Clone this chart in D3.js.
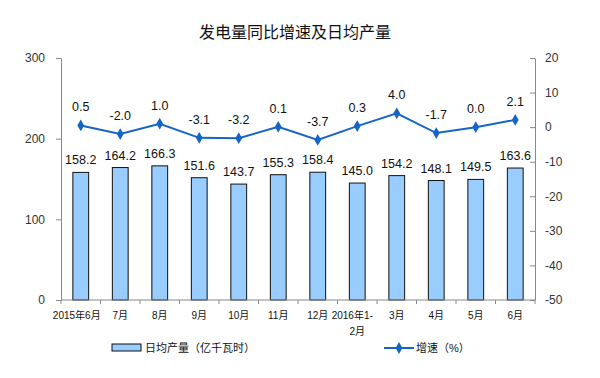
<!DOCTYPE html>
<html lang="zh">
<head>
<meta charset="utf-8">
<title>发电量同比增速及日均产量</title>
<script src="https://d3js.org/d3.v7.min.js"></script>
<style>
  body { margin: 0; background: #fff; }
  text { font-family: "Liberation Sans", Arial, "Noto Sans CJK SC", sans-serif; }
  .cjk { font-family: "Liberation Sans", "Noto Sans CJK SC", sans-serif; }
</style>
</head>
<body>
<script>
// months on the x axis (second line used for the 1-2 month label)
var months = ["2015年6月", "7月", "8月", "9月", "10月", "11月", "12月", "2016年1-", "3月", "4月", "5月", "6月"];
var monthsLine2 = ["", "", "", "", "", "", "", "2月", "", "", "", ""];
// daily output, 亿千瓦时
var output = [158.2, 164.2, 166.3, 151.6, 143.7, 155.3, 158.4, 145.0, 154.2, 148.1, 149.5, 163.6];
// year-on-year growth, %
var growth = [0.5, -2.0, 1.0, -3.1, -3.2, 0.1, -3.7, 0.3, 4.0, -1.7, 0.0, 2.1];
var leftTicks = [0, 100, 200, 300];
var rightTicks = [-50, -40, -30, -20, -10, 0, 10, 20];

var w = 600, h = 378;
var mLeft = 61, mRight = 535, mTop = 58, mBottom = 300;

var svg = d3.select("body").append("svg")
    .attr("width", w)
    .attr("height", h);

var x = d3.scaleBand()
    .domain(d3.range(months.length))
    .range([mLeft, mRight])
    .paddingInner(0.6)
    .paddingOuter(0.3);

var xb = d3.scaleBand()
    .domain(d3.range(months.length))
    .range([mLeft, mRight]);

var y = d3.scaleLinear().domain([0, 300]).range([mBottom, mTop]);
var y2 = d3.scaleLinear().domain([-50, 20]).range([mBottom, mTop]);

// title
svg.append("text")
    .attr("class", "cjk")
    .attr("x", 295)
    .attr("y", 38)
    .attr("text-anchor", "middle")
    .style("font-size", "16px")
    .style("fill", "#111")
    .text("发电量同比增速及日均产量");

// bars
svg.selectAll("rect.bar")
    .data(output)
    .enter()
    .append("rect")
    .attr("class", "bar")
    .attr("x", function(d, i) { return x(i); })
    .attr("width", x.bandwidth())
    .attr("y", function(d) { return y(d); })
    .attr("height", function(d) { return y(0) - y(d); })
    .style("fill", "#99ccff")
    .style("stroke", "#111")
    .style("stroke-width", 1);

svg.selectAll("text.barlabel")
    .data(output)
    .enter()
    .append("text")
    .attr("class", "barlabel")
    .attr("x", function(d, i) { return x(i) + x.bandwidth() / 2; })
    .attr("y", function(d) { return y(d) - 8; })
    .attr("text-anchor", "middle")
    .style("font-size", "12.5px")
    .style("fill", "#111")
    .text(function(d) { return d.toFixed(1); });

// left axis
var axisL = svg.append("g")
    .attr("transform", "translate(" + mLeft + ",0)")
    .call(d3.axisLeft(y).tickValues(leftTicks).tickSize(5).tickSizeOuter(0)
        .tickFormat(function(d) { return String(d); }));
axisL.select(".domain").attr("stroke", "#888");
axisL.selectAll(".tick line").attr("stroke", "#888");
axisL.selectAll(".tick text")
    .attr("x", -16)
    .style("font-size", "12px")
    .style("fill", "#333")
    .style("font-family", "Liberation Sans, Arial, sans-serif");

// right axis (ticks point inward), plain hyphen for negatives
var axisR = svg.append("g")
    .attr("transform", "translate(" + mRight + ",0)")
    .call(d3.axisRight(y2).tickValues(rightTicks).tickSize(-5).tickSizeOuter(0)
        .tickFormat(function(d) { return String(d); }));
axisR.select(".domain").attr("stroke", "#888");
axisR.selectAll(".tick line").attr("stroke", "#888");
axisR.selectAll(".tick text")
    .attr("x", 10)
    .style("font-size", "12px")
    .style("fill", "#333")
    .style("font-family", "Liberation Sans, Arial, sans-serif");

// x axis with ticks at the band edges
var axisB = svg.append("g").attr("transform", "translate(0," + mBottom + ")");
axisB.append("line")
    .attr("x1", mLeft).attr("x2", mRight)
    .attr("stroke", "#888");
axisB.selectAll("line.tk")
    .data(d3.range(months.length + 1))
    .enter()
    .append("line")
    .attr("class", "tk")
    .attr("x1", function(d) { return mLeft + d * xb.step(); })
    .attr("x2", function(d) { return mLeft + d * xb.step(); })
    .attr("y1", 0).attr("y2", 4)
    .attr("stroke", "#888");
axisB.selectAll("text.m1")
    .data(months)
    .enter()
    .append("text")
    .attr("class", "m1 cjk")
    .attr("x", function(d, i) { return xb(i) + xb.bandwidth() / 2 - (i == 0 ? 4 : i == 7 ? 5 : 0); })
    .attr("y", 19)
    .attr("text-anchor", "middle")
    .style("font-size", "10px")
    .style("fill", "#111")
    .text(function(d) { return d; });
axisB.selectAll("text.m2")
    .data(monthsLine2)
    .enter()
    .append("text")
    .attr("class", "m2 cjk")
    .attr("x", function(d, i) { return xb(i) + xb.bandwidth() / 2; })
    .attr("y", 35)
    .attr("text-anchor", "middle")
    .style("font-size", "10px")
    .style("fill", "#111")
    .text(function(d) { return d; });

// growth line
var lineColor = "#1565c8";
var line = d3.line()
    .x(function(d, i) { return xb(i) + xb.bandwidth() / 2; })
    .y(function(d) { return y2(d); });

svg.append("path")
    .datum(growth)
    .attr("d", line)
    .style("fill", "none")
    .style("stroke", lineColor)
    .style("stroke-width", 2);

var diamond = d3.symbol().type(d3.symbolDiamond).size(40);
svg.selectAll("path.mk")
    .data(growth)
    .enter()
    .append("path")
    .attr("class", "mk")
    .attr("d", diamond)
    .attr("transform", function(d, i) { return "translate(" + (xb(i) + xb.bandwidth() / 2) + "," + y2(d) + ")"; })
    .style("fill", lineColor);

svg.selectAll("text.glabel")
    .data(growth)
    .enter()
    .append("text")
    .attr("class", "glabel")
    .attr("x", function(d, i) { return xb(i) + xb.bandwidth() / 2; })
    .attr("y", function(d) { return y2(d) - 14; })
    .attr("text-anchor", "middle")
    .style("font-size", "12.5px")
    .style("fill", "#111")
    .text(function(d) { return d.toFixed(1); });

// legend
var lg = svg.append("g");
lg.append("rect")
    .attr("x", 112).attr("y", 344)
    .attr("width", 29).attr("height", 7)
    .style("fill", "#99ccff")
    .style("stroke", "#111");
lg.append("text")
    .attr("class", "cjk")
    .attr("x", 145).attr("y", 352)
    .style("font-size", "11px")
    .style("fill", "#111")
    .text("日均产量（亿千瓦时）");
lg.append("line")
    .attr("x1", 384).attr("x2", 414)
    .attr("y1", 348).attr("y2", 348)
    .style("stroke", lineColor)
    .style("stroke-width", 2);
lg.append("path")
    .attr("d", diamond)
    .attr("transform", "translate(399,348)")
    .style("fill", lineColor);
lg.append("text")
    .attr("class", "cjk")
    .attr("x", 416).attr("y", 352)
    .style("font-size", "11px")
    .style("fill", "#111")
    .text("增速（%）");
</script>
</body>
</html>
